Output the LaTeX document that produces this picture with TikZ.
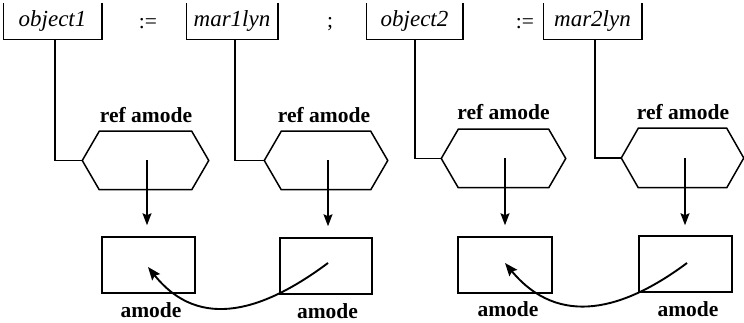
\documentclass[tikz,border=0pt]{standalone}
\usepackage{fontspec}
\setmainfont{Liberation Serif}
\usetikzlibrary{arrows.meta}
\newcommand\lblfont{\fontsize{21.5}{24}\selectfont}
\newcommand\topfont{\fontsize{23}{26}\selectfont}
\newcommand\drawhexagon[1]{%
  \draw (#1.west) -- ([xshift=17pt]#1.north west) -- ([xshift=-17pt]#1.north east)
    -- (#1.east) -- ([xshift=-17pt]#1.south east) -- ([xshift=17pt]#1.south west) -- cycle;}
\begin{document}
\begin{tikzpicture}[x=1pt,y=-1pt,line width=1.5pt,
  topbox/.style={minimum width=#1, minimum height=35pt, inner sep=0pt,
    text height=16pt, text depth=5pt, font=\topfont\itshape},
  hexbox/.style n args={2}{minimum width=#1, minimum height=#2, inner sep=0pt},
  rbox/.style n args={2}{draw, minimum width=#1, minimum height=#2, inner sep=0pt},
  lbl/.style={anchor=base, inner sep=0pt, font=\lblfont\bfseries},
  sym/.style={inner sep=0pt, font=\lblfont},
  arr/.style={-{Stealth[length=12pt,width=9pt,inset=2pt]}},
  curvearr/.style={line width=1.9pt, -{Stealth[length=13pt,width=10pt,inset=2pt]}}]
\useasboundingbox (0,0) rectangle (744,323);

% top row
\node[topbox=97pt] (o1) at (52.5,21.5) {object1};
\node[topbox=90pt] (m1) at (232,21.5) {mar1lyn};
\node[topbox=95pt] (o2) at (414.5,21.5) {object2};
\node[topbox=97pt] (m2) at (592.5,21.5) {mar2lyn};
\node[sym] (s1) at (148,24) {:=};
\node[sym] (s2) at (330,24) {;};
\node[sym] (s3) at (525,24) {:=};
\foreach \b in {o1,m1,o2,m2}
  \draw (\b.north west) -- (\b.south west) -- (\b.south east) -- (\b.north east);

% hexagons
\node[hexbox={125pt}{57pt}] (h1) at (145.5,160.5) {};
\node[hexbox={122pt}{57pt}] (h2) at (326,160.5) {};
\node[hexbox={123pt}{57pt}] (h3) at (503.5,158.5) {};
\node[hexbox={121pt}{58pt}] (h4) at (682.5,158) {};
\drawhexagon{h1}\drawhexagon{h2}\drawhexagon{h3}\drawhexagon{h4}

\node[lbl] (t1) at (146,123) {ref amode};
\node[lbl] (t2) at (324,123) {ref amode};
\node[lbl] (t3) at (503.5,120) {ref amode};
\node[lbl] (t4) at (683,120) {ref amode};

% connectors from top boxes to hexagons
\draw ([xshift=2.5pt]o1.south) |- (h1.west);
\draw ([xshift=3pt]m1.south) |- (h2.west);
\draw ([xshift=0.5pt]o2.south) |- (h3.west);
\draw ([xshift=2.5pt]m2.south) |- (h4.west);

% rectangles
\node[rbox={93pt}{56pt}] (r1) at (148.5,265) {};
\node[rbox={92pt}{56pt}] (r2) at (326,266) {};
\node[rbox={94pt}{56pt}] (r3) at (505,265) {};
\node[rbox={93pt}{56pt}] (r4) at (685.5,264) {};

\node[lbl] (a1) at (151,317.5) {amode};
\node[lbl] (a2) at (327.5,318) {amode};
\node[lbl] (a3) at (508,316.5) {amode};
\node[lbl] (a4) at (688,316.5) {amode};

% arrows from hexagons to rectangles
\draw[arr] ([xshift=1.5pt]h1.center) -- ([xshift=-1.5pt,yshift=11pt]r1.north);
\draw[arr] ([xshift=2pt]h2.center) -- ([xshift=2pt,yshift=11pt]r2.north);
\draw[arr] ([xshift=1.5pt]h3.center) -- ([yshift=11pt]r3.north);
\draw[arr] ([xshift=2.5pt]h4.center) -- ([xshift=-0.5pt,yshift=10pt]r4.north);

% curved arrows
\coordinate (c2s) at (328,263);
\coordinate (c1e) at (148,267);
\coordinate (c4s) at (687,263);
\coordinate (c3e) at (505,263);
\draw[curvearr] (c2s) .. controls (265,310) and (200,332) .. (c1e);
\draw[curvearr] (c4s) .. controls (624,310) and (559,328) .. (c3e);
\end{tikzpicture}
\end{document}
